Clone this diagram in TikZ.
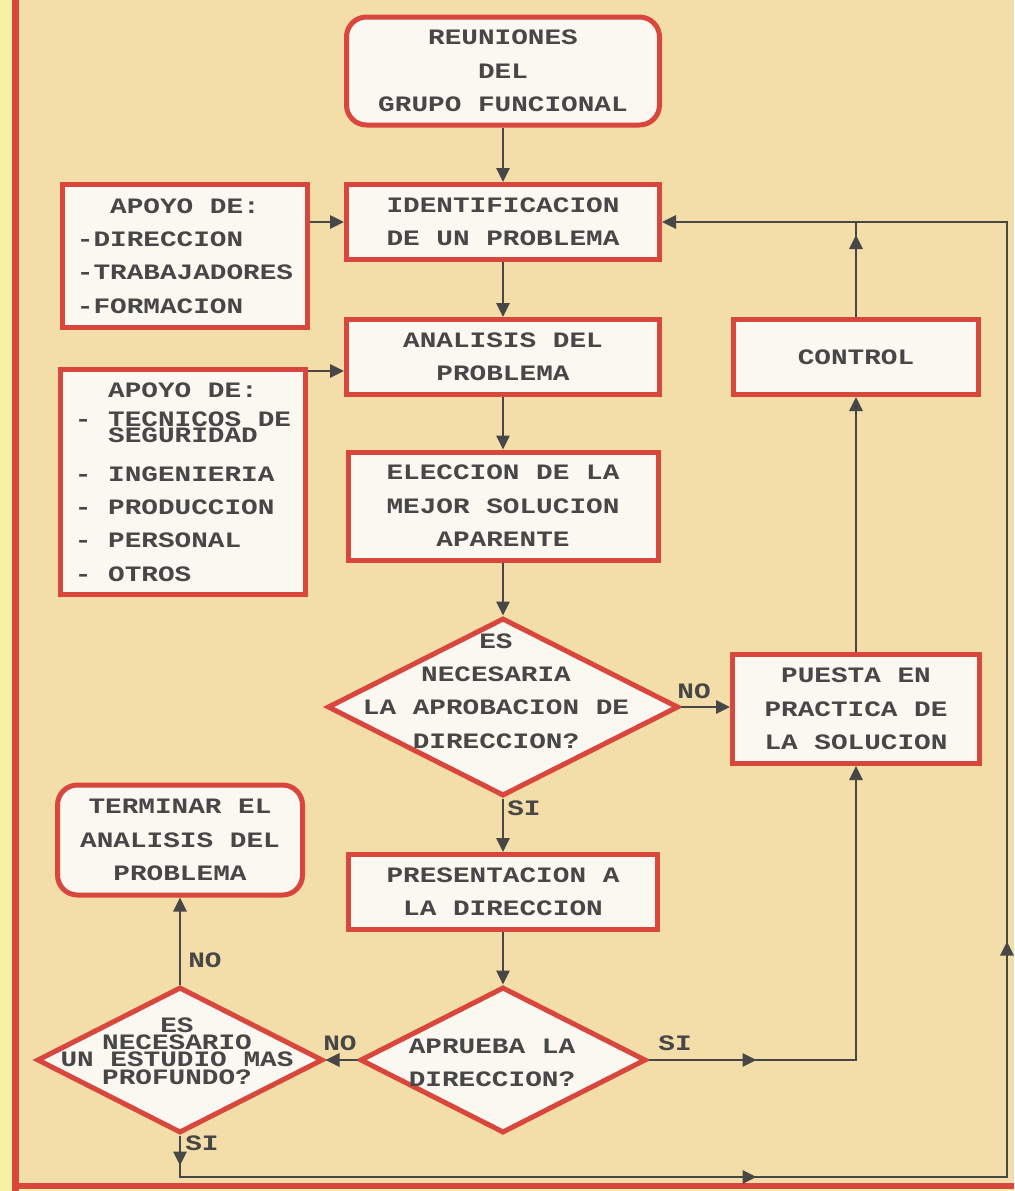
\documentclass[tikz,border=0pt]{standalone}
\usepackage{fontspec}
\usetikzlibrary{shapes.geometric,arrows.meta,decorations.markings}
\newfontfamily\pixfont[FakeStretch=1.26]{Liberation Mono}
\newcommand\pixtext{\pixfont\bfseries\fontsize{11pt}{16.7pt}\selectfont\lineskiplimit=-100pt}
\newcommand\pixtight{\pixfont\bfseries\fontsize{11pt}{8.6pt}\selectfont\lineskiplimit=-100pt}
\definecolor{paper}{HTML}{F3DDA8}
\definecolor{boxred}{HTML}{D9463E}
\definecolor{ink}{HTML}{474747}
\definecolor{boxfill}{HTML}{FBF8F1}
\definecolor{strip}{HTML}{F7F1A3}

\begin{document}
\begin{tikzpicture}[x=0.5pt,y=-0.5pt,
	box/.style={draw=boxred,line width=2.5pt,fill=boxfill,text=ink,font=\pixtext,align=center,inner sep=0pt},
	rbox/.style={box,rounded corners=10pt},
	decision/.style={draw=boxred,line width=2.5pt,fill=boxfill,shape=diamond,inner sep=0pt},
	txt/.style={text=ink,font=\pixtext,align=center,inner sep=0pt},
	flow/.style={draw=ink,line width=1.4pt,-{Triangle[length=7pt,width=6.5pt]}},
	wire/.style={draw=ink,line width=1.4pt},
	tipat/.style={postaction={decorate,decoration={markings,mark=at position #1 with {\arrow{Triangle[length=7pt,width=6.5pt]}}}}},
	lbl/.style={text=ink,font=\pixtext,inner sep=0pt}]
	%PAPER
	\useasboundingbox (0,0) rectangle (1014,1191);
	\fill[paper] (0,0) rectangle (1014,1191);
	\fill[strip] (0,0) rectangle (12,1191);
	\fill[boxred] (12,0) rectangle (19,1191);
	\fill[boxred] (12,1183) rectangle (1014,1189);
	\fill[strip] (19,1189) rectangle (1014,1191);
	
	%MAIN COLUMN
	\node[rbox,minimum width=156.5pt,minimum height=54pt] (reun) at (503,71) {REUNIONES\\DEL\\GRUPO FUNCIONAL};
	\node[box,minimum width=156.5pt,minimum height=37.5pt] (ident) at (503,222) {IDENTIFICACION\\DE UN PROBLEMA};
	\node[box,minimum width=156.5pt,minimum height=37.5pt] (anal) at (503,357) {ANALISIS DEL\\PROBLEMA};
	\node[box,minimum width=155pt,minimum height=54pt] (elec) at (503,506) {ELECCION DE LA\\MEJOR SOLUCION\\APARENTE};
	\node[decision,minimum width=175.5pt,minimum height=89pt] (aprob) at (503,707) {};
	\node[txt] (aprobtxt) at (496,691) {ES\\NECESARIA\\LA APROBACION DE\\DIRECCION?};
	\node[box,minimum width=154.5pt,minimum height=37.5pt] (pres) at (503,892) {PRESENTACION A\\LA DIRECCION};
	\node[decision,minimum width=143pt,minimum height=73pt] (aprueba) at (503,1060) {};
	\node[txt] (apruebatxt) at (492,1063) {APRUEBA LA\\DIRECCION?};
	%
	\node[box,align=left,minimum width=122.5pt,minimum height=71.5pt] (apoyo1) at (185,256) {\phantom{AA}APOYO DE:\\-DIRECCION\\-TRABAJADORES\\-FORMACION};
	\node[box,align=left,minimum width=122.5pt,minimum height=112.5pt] (apoyo2) at (183,482) {\phantom{AA}APOYO DE:\\[-2.2pt]- TECNICOS DE\\[-8.3pt]\phantom{AA}SEGURIDAD\\[2.4pt]- INGENIERIA\\- PRODUCCION\\- PERSONAL\\- OTROS};
	\node[rbox,minimum width=122.5pt,minimum height=55pt] (termin) at (180,840) {TERMINAR EL\\ANALISIS DEL\\PROBLEMA};
	\node[decision,minimum width=143pt,minimum height=73pt] (estudio) at (180,1060) {};
	\node[txt,font=\pixtight] (estudiotxt) at (177,1051) {ES\\NECESARIO\\UN ESTUDIO MAS\\PROFUNDO?};
	%
	\node[box,minimum width=123.5pt,minimum height=54.5pt] (puesta) at (856,709) {PUESTA EN\\PRACTICA DE\\LA SOLUCION};
	\node[box,minimum width=122.5pt,minimum height=37.5pt] (control) at (856,357) {CONTROL};
	
	%ARROWS
	\draw[flow] (reun.south) -- (ident.north);
	\draw[flow] (apoyo1.east |- ident.west) -- (ident.west);
	\draw[flow] ([yshift=-2pt]apoyo2.north east) -- ([yshift=-2pt]apoyo2.north east -| anal.west);
	\draw[flow] (ident.south) -- (anal.north);
	\draw[flow] (anal.south) -- (elec.north);
	\draw[flow] (elec.south) -- (aprob.north);
	\draw[flow] (aprob.east) -- (aprob.east -| puesta.west);
	\draw[flow] (aprob.south) -- (pres.north);
	\draw[flow] (pres.south) -- (aprueba.north);
	\draw[flow] (aprueba.west) -- (estudio.east);
	\draw[flow,tipat=54pt] (aprueba.east) -| (puesta.south);
	\draw[flow] (estudio.north) -- (termin.south);
	\draw[flow] (puesta.north) -- (control.south);
	\draw[wire,tipat=41pt] (control.north) -- (control.north |- ident.east);
	%
	\coordinate (sw) at (180,1177);
	\coordinate (se) at (1007,1177);
	\coordinate (ne) at (1007,222);
	\draw[flow,tipat=15pt,tipat=309pt,tipat=552pt] (estudio.south) -- (sw) -- (se) -- (ne) -- (ident.east);
	
	%LABELS
	\node[lbl] (no1) at (694,691) {NO};
	\node[lbl] (si1) at (524,808) {SI};
	\node[lbl] (no2) at (340,1043) {NO};
	\node[lbl] (si2) at (675,1043) {SI};
	\node[lbl] (no3) at (205,960) {NO};
	\node[lbl] (si3) at (202,1143) {SI};
\end{tikzpicture}
\end{document}
